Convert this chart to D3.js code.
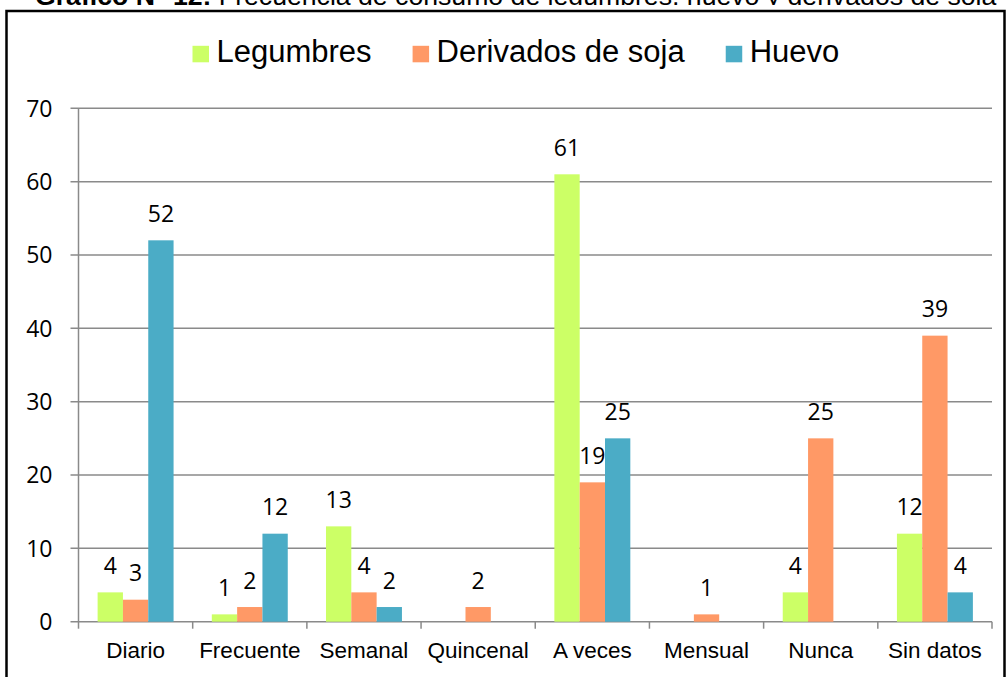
<!DOCTYPE html>
<html>
<head>
<meta charset="utf-8">
<script src="https://cdn.jsdelivr.net/npm/d3@7"></script>
<style>
  body { margin: 0; background: #fff; }
  svg { display: block; }
</style>
</head>
<body>
<div id="chart"></div>
<script>
var categories = ['Diario', 'Frecuente', 'Semanal', 'Quincenal', 'A veces', 'Mensual', 'Nunca', 'Sin datos'];
var seriesNames = ['Legumbres', 'Derivados de soja', 'Huevo'];
var legumbres = [4, 1, 13, 0, 61, 0, 4, 12];
var derivados = [3, 2, 4, 2, 19, 1, 25, 39];
var huevo = [52, 12, 2, 0, 25, 0, 0, 4];
var yTicks = [0, 10, 20, 30, 40, 50, 60, 70];
var colors = ['#ccff66', '#ff9966', '#4bacc6'];

var values = [legumbres, derivados, huevo];

var svg = d3.select('#chart')
  .append('svg')
    .attr('width', 1008)
    .attr('height', 677);

// title, mostly cut off by the top of the picture
var title = svg.append('text')
  .attr('x', 35)
  .attr('y', 5)
  .attr('font-family', 'Liberation Sans, Arial, sans-serif')
  .attr('font-size', 24)
  .attr('fill', '#000');
title.append('tspan').attr('font-weight', 'bold').text('Gráfico N° 12:');
title.append('tspan').text(' Frecuencia de consumo de  legumbres, huevo y derivados de soja');
var tw = title.node().getComputedTextLength();
title.attr('font-size', 24 * 962 / tw);

// chart frame
svg.append('rect')
  .attr('x', 6.5)
  .attr('y', 5)
  .attr('width', 1100)
  .attr('height', 700)
  .attr('fill', '#fff');
svg.append('rect')
  .attr('x', 6.5)
  .attr('y', 11)
  .attr('width', 998)
  .attr('height', 700)
  .attr('fill', 'none')
  .attr('stroke', '#000')
  .attr('stroke-width', 2.5);

var plotLeft = 78.5, plotRight = 992, plotTop = 108.3, plotBottom = 621.7;

var y = d3.scaleLinear()
  .domain([0, 70])
  .range([plotBottom, plotTop]);

var x0 = d3.scaleBand()
  .domain(categories)
  .range([plotLeft, plotRight]);

var x1 = d3.scaleBand()
  .domain(seriesNames)
  .range([0, x0.bandwidth()])
  .paddingOuter(0.755);

var gridColor = '#8a8a8a';

// gridlines
svg.append('g')
  .selectAll('line')
  .data(yTicks)
    .enter()
      .append('line')
        .attr('x1', plotLeft - 8)
        .attr('x2', plotRight)
        .attr('y1', function(d) { return y(d); })
        .attr('y2', function(d) { return y(d); })
        .attr('stroke', gridColor)
        .attr('stroke-width', 1.5);

// y axis line
svg.append('line')
  .attr('x1', plotLeft).attr('x2', plotLeft)
  .attr('y1', plotTop).attr('y2', plotBottom)
  .attr('stroke', gridColor)
  .attr('stroke-width', 1.5);

// x axis ticks between categories
var bounds = categories.map(function(c) { return x0(c); }).concat([plotRight]);
svg.append('g')
  .selectAll('line')
  .data(bounds)
    .enter()
      .append('line')
        .attr('x1', function(d) { return d; })
        .attr('x2', function(d) { return d; })
        .attr('y1', plotBottom)
        .attr('y2', plotBottom + 7)
        .attr('stroke', gridColor)
        .attr('stroke-width', 1.5);

// y tick labels
svg.append('g')
  .selectAll('text')
  .data(yTicks)
    .enter()
      .append('text')
        .attr('x', 52.5)
        .attr('y', function(d) { return y(d); })
        .attr('dy', '0.36em')
        .attr('text-anchor', 'end')
        .attr('font-family', 'Open Sans, Noto Sans, sans-serif')
        .attr('font-size', 23)
        .attr('fill', '#000')
        .text(function(d) { return d; });

// x labels
svg.append('g')
  .selectAll('text')
  .data(categories)
    .enter()
      .append('text')
        .attr('x', function(d) { return x0(d) + x0.bandwidth() / 2; })
        .attr('y', 658.3)
        .attr('text-anchor', 'middle')
        .attr('font-family', 'Liberation Sans, Arial, sans-serif')
        .attr('font-size', 22.5)
        .attr('fill', '#000')
        .text(function(d) { return d; });

// bars
var rows = [];
categories.forEach(function(c, i) {
  seriesNames.forEach(function(s, j) {
    rows.push({ cat: c, series: s, idx: j, value: values[j][i] });
  });
});

var bars = svg.append('g');
bars.selectAll('rect')
  .data(rows)
    .enter()
      .append('rect')
        .attr('x', function(d) { return x0(d.cat) + x1(d.series); })
        .attr('y', function(d) { return y(d.value); })
        .attr('width', x1.bandwidth())
        .attr('height', function(d) { return y(0) - y(d.value); })
        .attr('fill', function(d) { return colors[d.idx]; });

// value labels, only for non-zero bars
bars.selectAll('text')
  .data(rows.filter(function(d) { return d.value > 0; }))
    .enter()
      .append('text')
        .attr('x', function(d) { return x0(d.cat) + x1(d.series) + x1.bandwidth() / 2; })
        .attr('y', function(d) { return y(d.value) - 18.5; })
        .attr('text-anchor', 'middle')
        .attr('font-family', 'Open Sans, Noto Sans, sans-serif')
        .attr('font-size', 23)
        .attr('fill', '#000')
        .text(function(d) { return d.value; });

// legend
var legend = svg.append('g').attr('class', 'legend');
var lx = 192.5;
seriesNames.forEach(function(s, i) {
  legend.append('rect')
    .attr('x', lx)
    .attr('y', 45.8)
    .attr('width', 16.5)
    .attr('height', 16.5)
    .attr('fill', colors[i]);
  var t = legend.append('text')
    .attr('x', lx + 24)
    .attr('y', 62.3)
    .attr('font-family', 'Liberation Sans, Arial, sans-serif')
    .attr('font-size', 31)
    .attr('fill', '#000')
    .text(s);
  lx = lx + 24 + t.node().getComputedTextLength() + 41;
});
</script>
</body>
</html>
